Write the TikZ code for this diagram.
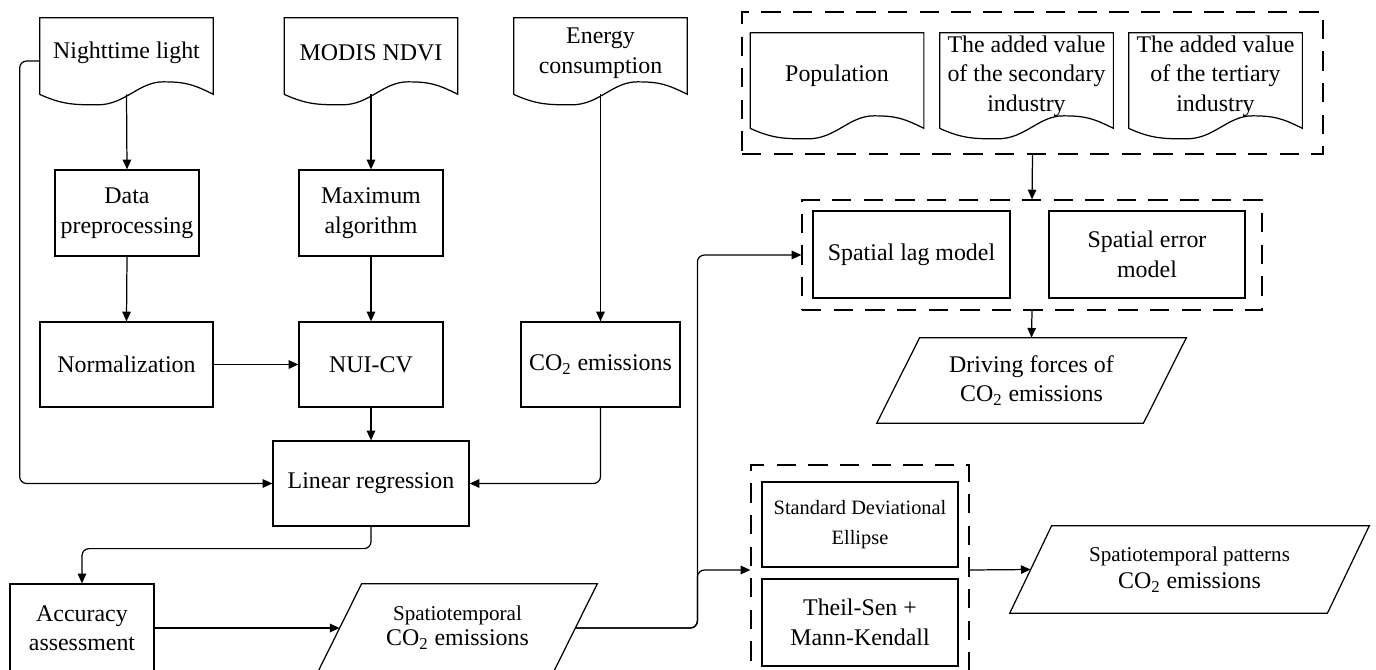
\documentclass[tikz,border=0pt]{standalone}
\usepackage{fontspec}
\setmainfont{Liberation Serif}
\usetikzlibrary{arrows.meta}
\newcommand{\boxfont}{\fontsize{13.6pt}{16.8pt}\selectfont}
\newcommand{\notefont}{\fontsize{12pt}{14pt}\selectfont}
\newcommand{\ellfont}{\fontsize{11.6pt}{14pt}\selectfont}
\begin{document}
\begin{tikzpicture}[
  ln/.style = {line width=0.7pt},
  box/.style = {draw, ln, align=center, inner sep=2pt, font=\boxfont},
  doc/.style = {inner sep=0pt, minimum width=3.46cm},
  doctxt/.style = {align=center, font=\boxfont, yshift=0.07cm},
  para/.style = {align=center, inner sep=2pt, font=\boxfont},
  grp/.style = {draw, ln, dash pattern=on 11pt off 7pt},
  arr/.style = {ln, -{Triangle[length=5.5pt,width=4.8pt]}},
  link/.style = {arr, rounded corners=4pt}
]
  \useasboundingbox (0,0) rectangle (27.52,-13.4);
  \clip (0,0) rectangle (27.52,-13.4);
  % data sources
  \node[doc, minimum height=1.52cm, label={[doctxt]center:Nighttime light}] (ntl) at (2.53,-1.12) {};
  \node[doc, minimum height=1.52cm, label={[doctxt]center:MODIS NDVI}] (ndvi) at (7.42,-1.12) {};
  \node[doc, minimum height=1.52cm, label={[doctxt, yshift=-0.01cm]center:{Energy\\consumption}}] (energy) at (12.01,-1.12) {};
  \node[doc, minimum height=1.9cm, label={[doctxt, yshift=0.02cm]center:Population}] (pop) at (16.74,-1.61) {};
  \node[doc, minimum height=1.9cm, label={[doctxt, yshift=0.02cm]center:{The added value\\of the secondary\\industry}}] (sec) at (20.53,-1.61) {};
  \node[doc, minimum height=1.9cm, label={[doctxt, yshift=0.02cm]center:{The added value\\of the tertiary\\industry}}] (ter) at (24.31,-1.61) {};
  \foreach \n in {ntl,ndvi,energy,pop,sec,ter} {
    \draw[ln] (\n.south west) -- (\n.north west) -- (\n.north east) -- (\n.south east)
      .. controls +(-0.4,0.2) and +(0.44,0) .. ++(-1.0,0.25)
      .. controls +(-0.5,0) and +(0.56,0) .. ++(-1.32,-0.46)
      .. controls +(-0.48,0) and +(0.44,-0.2) .. (\n.south west);
  }
  % processing
  \node[box, minimum width=2.88cm, minimum height=1.72cm] (prep) at (2.54,-4.26) {Data\\preprocessing};
  \node[box, minimum width=2.88cm, minimum height=1.72cm] (maxalg) at (7.42,-4.26) {Maximum\\algorithm};
  \node[box, minimum width=3.46cm, minimum height=1.7cm] (norm) at (2.53,-7.29) {Normalization};
  \node[box, minimum width=2.88cm, minimum height=1.7cm] (nuicv) at (7.42,-7.29) {NUI-CV};
  \node[box, minimum width=3.18cm, minimum height=1.7cm] (co2) at (12.01,-7.29) {CO\textsubscript{2} emissions};
  \node[box, minimum width=3.92cm, minimum height=1.7cm] (linreg) at (7.42,-9.67) {Linear regression};
  \node[box, minimum width=2.88cm, minimum height=1.76cm] (acc) at (1.64,-12.56) {Accuracy\\assessment};
  % models
  \node[box, minimum width=3.94cm, minimum height=1.74cm] (lag) at (18.23,-5.09) {Spatial lag model};
  \node[box, minimum width=3.92cm, minimum height=1.74cm] (err) at (22.94,-5.09) {Spatial error\\model};
  \node[box, minimum width=3.92cm, minimum height=1.7cm] (sde) at (17.2,-10.49) {\ellfont Standard Deviational\\\ellfont Ellipse};
  \node[box, minimum width=3.92cm, minimum height=1.74cm] (theil) at (17.2,-12.45) {Theil-Sen +\\Mann-Kendall};
  % groups
  \node[grp, minimum width=11.62cm, minimum height=2.84cm] (factors) at (20.65,-1.66) {};
  \node[grp, minimum width=9.2cm, minimum height=2.2cm] (models) at (20.64,-5.1) {};
  \node[grp, minimum width=4.36cm, minimum height=4.2cm] (trend) at (17.2,-11.4) {};
  % results
  \node[para, minimum width=4.7cm, minimum height=1.76cm] (spco2) at (9.15,-12.56) {{\notefont Spatiotemporal}\\[-2.5pt]CO\textsubscript{2} emissions};
  \node[para, minimum width=5.32cm, minimum height=1.7cm] (drive) at (20.63,-7.61) {Driving forces of\\CO\textsubscript{2} emissions};
  \node[para, minimum width=6.34cm, minimum height=1.74cm] (pattern) at (23.79,-11.39) {{\notefont Spatiotemporal patterns}\\[-1pt]CO\textsubscript{2} emissions};
  \foreach \n/\s in {spco2/0.44, drive/0.43, pattern/0.42} {
    \draw[ln] ([xshift=\s cm]\n.north west) -- ([xshift=\s cm]\n.north east)
      -- ([xshift=-\s cm]\n.south east) -- ([xshift=-\s cm]\n.south west) -- cycle;
  }
  % connectors
  \draw[arr] (ntl.south) -- (prep.north);
  \draw[arr] (prep.south) -- (norm.north);
  \draw[arr] (ndvi.south) -- (maxalg.north);
  \draw[arr] (maxalg.south) -- (nuicv.north);
  \draw[arr] (norm.east) -- (nuicv.west);
  \draw[arr] (nuicv.south) -- (linreg.north);
  \draw[arr] (energy.south) -- (co2.north);
  \draw[link] ([yshift=-0.1cm]ntl.west) -- ++(-0.4,0) |- (linreg.west);
  \draw[link] (co2.south) |- (linreg.east);
  \draw[link] (linreg.south) -- ++(0,-0.44) -| (acc.north);
  \draw[arr] (acc.east) -- (spco2.west);
  \draw[link] (spco2.east) -| ([xshift=-2.08cm]models.west) -- (models.west);
  \draw[link] (spco2.east) -| ([xshift=-1.06cm]trend.west) -- (trend.west);
  \draw[arr] (factors.south) -- (models.north);
  \draw[arr] (models.south) -- (drive.north);
  \draw[arr] (trend.east) -- (pattern.west);
\end{tikzpicture}
\end{document}
